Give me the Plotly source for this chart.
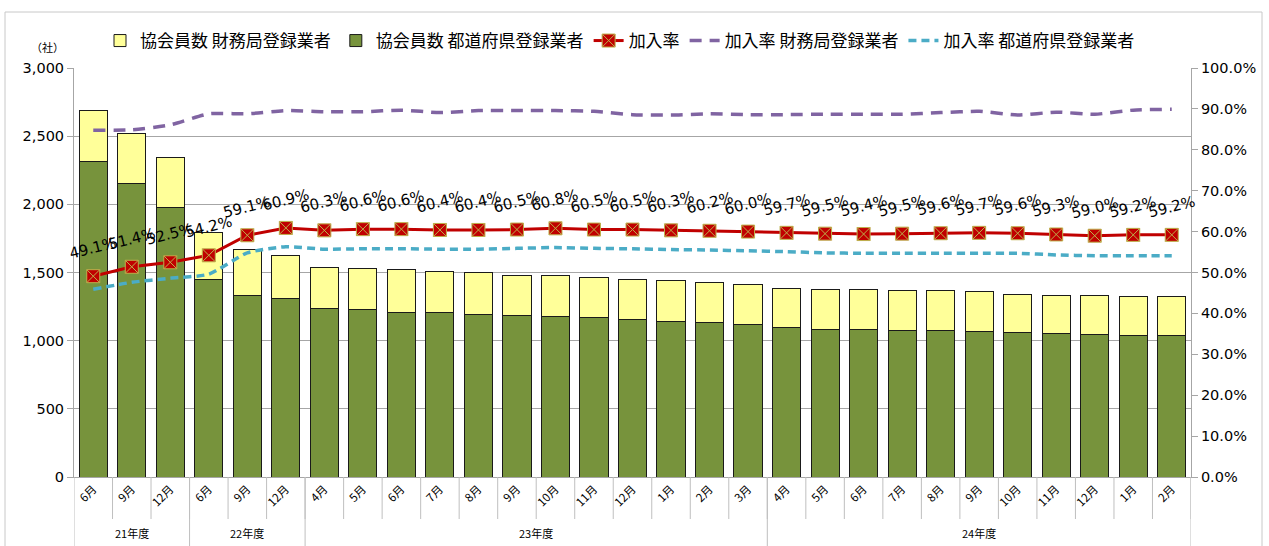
import plotly.graph_objects as go

# ---- data ----
fiscal_years = ["21年度", "22年度", "23年度", "24年度"]
months_by_year = [
    ["6月", "9月", "12月"],
    ["6月", "9月", "12月"],
    ["4月", "5月", "6月", "7月", "8月", "9月", "10月", "11月", "12月", "1月", "2月", "3月"],
    ["4月", "5月", "6月", "7月", "8月", "9月", "10月", "11月", "12月", "1月", "2月"],
]
month_level = [m for ms in months_by_year for m in ms]

members_prefecture = [2313, 2154, 1980, 1452, 1335, 1306, 1235, 1230, 1210, 1203, 1193, 1181, 1174, 1169,
                      1157, 1144, 1135, 1115, 1098, 1083, 1083, 1076, 1076, 1069, 1061, 1054, 1047, 1039, 1039]
members_bureau = [377, 367, 367, 343, 332, 320, 305, 303, 313, 303, 306, 298, 303, 296,
                  295, 299, 293, 296, 286, 289, 291, 290, 293, 293, 279, 281, 283, 286, 286]
rate_total = [49.1, 51.4, 52.5, 54.2, 59.1, 60.9, 60.3, 60.6, 60.6, 60.4, 60.4, 60.5, 60.8, 60.5,
              60.5, 60.3, 60.2, 60.0, 59.7, 59.5, 59.4, 59.5, 59.6, 59.7, 59.6, 59.3, 59.0, 59.2, 59.2]
rate_bureau = [84.8, 84.9, 86.1, 88.8, 88.8, 89.6, 89.3, 89.3, 89.7, 89.1, 89.6, 89.6, 89.6, 89.4,
               88.6, 88.5, 88.8, 88.6, 88.6, 88.7, 88.7, 88.7, 89.1, 89.4, 88.5, 89.2, 88.7, 89.7, 89.9]
rate_prefecture = [45.9, 47.6, 48.6, 49.6, 54.8, 56.3, 55.7, 55.8, 55.8, 55.7, 55.7, 55.9, 56.1, 55.9,
                   55.8, 55.6, 55.5, 55.3, 55.1, 54.8, 54.7, 54.7, 54.7, 54.7, 54.7, 54.3, 54.1, 54.1, 54.1]

n = len(month_level)
x = list(range(n))

JP = "Noto Sans CJK JP"
NUM = "DejaVu Sans"

W, H = 1269, 546
ML, MR, MT, MB = 74, 78, 68, 69
PH = H - MT - MB  # plot height in px
PW = W - ML - MR

fig = go.Figure()
fig.add_trace(go.Bar(
    x=x, y=members_prefecture, name="協会員数 都道府県登録業者",
    marker=dict(color="#77933C", line=dict(color="#1a1a1a", width=1)),
    legendrank=2,
))
fig.add_trace(go.Bar(
    x=x, y=members_bureau, name="協会員数 財務局登録業者",
    marker=dict(color="#FFFF99", line=dict(color="#1a1a1a", width=1)),
    legendrank=1,
))
fig.add_trace(go.Scatter(
    x=x, y=[v / 100 for v in rate_bureau], name="加入率 財務局登録業者", yaxis="y2",
    mode="lines", line=dict(color="#8064A2", width=3.5, dash="12px,8px", shape="spline", smoothing=0.6),
    legendrank=4,
))
fig.add_trace(go.Scatter(
    x=x, y=[v / 100 for v in rate_prefecture], name="加入率 都道府県登録業者", yaxis="y2",
    mode="lines", line=dict(color="#4BACC6", width=3.5, dash="8px,5px", shape="spline", smoothing=0.6),
    legendrank=5,
))
fig.add_trace(go.Scatter(
    x=x, y=[v / 100 for v in rate_total], name="加入率", yaxis="y2",
    mode="lines+markers", line=dict(color="#C00000", width=3),
    marker=dict(symbol="square-x", size=13, color="#C00000", line=dict(color="#BDB04C", width=1)),
    legendrank=3,
))

annotations = []
for i, v in enumerate(rate_total):
    annotations.append(dict(
        x=i, y=v / 100, xref="x", yref="y2", text=f"{v:.1f}%", showarrow=False,
        yshift=28, textangle=-14, font=dict(family=NUM, size=15, color="#000000"),
    ))
annotations.append(dict(
    x=(47 - ML) / PW, y=(H - MB - 47) / PH, xref="paper", yref="paper", text="（社）", showarrow=False,
    xanchor="center", yanchor="middle",
    font=dict(family=JP, size=11, color="#000000"),
))

# category-axis decorations: month boundaries and fiscal-year groups
shapes = []
start = 0
for fy, ms in zip(fiscal_years, months_by_year):
    end = start + len(ms)
    annotations.append(dict(
        x=(start + end - 1) / 2, y=-(533 - (H - MB)) / PH, xref="x", yref="paper", text=fy,
        showarrow=False, xanchor="center", yanchor="middle",
        font=dict(family=JP, size=11, color="#000000"),
    ))
    for b in range(start, end):
        shapes.append(dict(type="line", xref="x", yref="paper", x0=b + 0.5, x1=b + 0.5,
                           y0=0, y1=-42 / PH, line=dict(color="#BFBFBF", width=1)))
    shapes.append(dict(type="line", xref="x", yref="paper", x0=start - 0.5, x1=start - 0.5,
                       y0=0, y1=-MB / PH, line=dict(color="#BFBFBF", width=1)))
    start = end
shapes.append(dict(type="line", xref="x", yref="paper", x0=n - 0.5, x1=n - 0.5,
                   y0=0, y1=-MB / PH, line=dict(color="#BFBFBF", width=1)))
shapes.append(dict(type="rect", xref="paper", yref="paper",
                   x0=(5 - ML) / PW, x1=(1262 - ML) / PW, y0=-(600 - (H - MB)) / PH, y1=(H - MB - 12) / PH,
                   line=dict(color="#C8C8C8", width=1), fillcolor="rgba(0,0,0,0)", layer="below"))

fig.update_layout(
    width=W, height=H,
    margin=dict(l=ML, r=MR, t=MT, b=MB, autoexpand=False),
    paper_bgcolor="white", plot_bgcolor="white",
    barmode="stack", bargap=0.27,
    showlegend=True,
    legend=dict(orientation="h", x=(100 - ML) / PW, y=(H - MB - 41) / PH, xanchor="left", yanchor="middle",
                font=dict(family=JP, size=17, color="#000000"), traceorder="normal",
                itemwidth=30, bgcolor="rgba(0,0,0,0)"),
    xaxis=dict(
        range=[-0.5, n - 0.5], tickmode="array", tickvals=x, ticktext=month_level, tickangle=-45,
        showline=True, linecolor="#A6A6A6", linewidth=1, ticks="",
        tickfont=dict(family=JP, size=11.5, color="#000000"),
        showgrid=False, zeroline=False, automargin=False,
    ),
    yaxis=dict(
        range=[0, 3000], dtick=500, tickformat=",", showgrid=True, gridcolor="#A6A6A6", gridwidth=1,
        showline=True, linecolor="#A6A6A6", ticks="outside", ticklen=6, tickcolor="#A6A6A6",
        tickfont=dict(family=NUM, size=14.5, color="#000000"), zeroline=False, automargin=False,
    ),
    yaxis2=dict(
        range=[0, 1], dtick=0.1, tickformat=".1%", overlaying="y", side="right", showgrid=False,
        showline=True, linecolor="#A6A6A6", ticks="outside", ticklen=6, tickcolor="#A6A6A6",
        tickfont=dict(family=NUM, size=14.5, color="#000000"), zeroline=False, automargin=False,
    ),
    annotations=annotations,
    shapes=shapes,
)

fig.write_html("out.html", post_script="document.body.style.margin='0px';",
               config={"displayModeBar": False})
